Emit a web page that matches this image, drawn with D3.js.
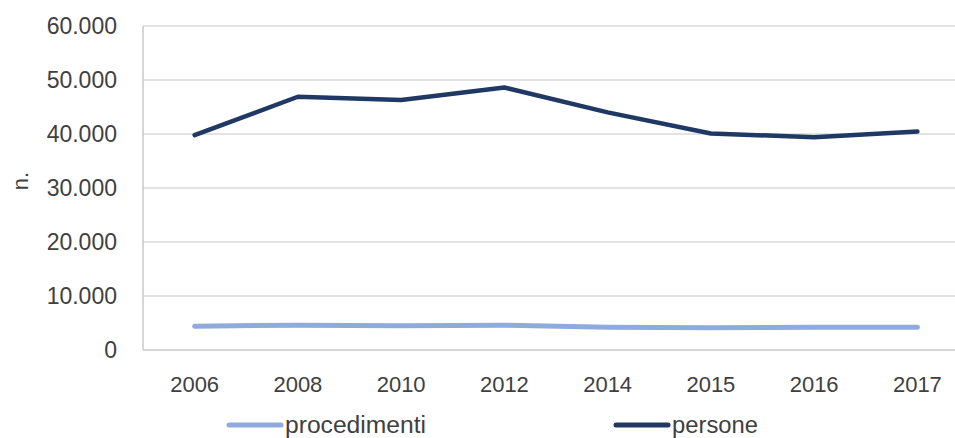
<!DOCTYPE html>
<html><head><meta charset="utf-8">
<script src="https://cdn.jsdelivr.net/npm/d3@7/dist/d3.min.js"></script>
<style>body{margin:0;background:#fff}svg{display:block}text{font-family:"Liberation Sans",Arial,sans-serif;fill:#404040}</style>
</head><body><svg id="c" width="955" height="438"></svg>
<script>
const years = ["2006","2008","2010","2012","2014","2015","2016","2017"];
const procedimenti = [4400,4600,4500,4600,4200,4100,4200,4200];
const persone = [39800,46900,46300,48600,44000,40100,39400,40450];
const yTicks = [0,10000,20000,30000,40000,50000,60000];
const seriesNames = ["procedimenti","persone"];
const colors = ["#8FAADC","#1F3864"];

const svg = d3.select("#c");
const x = d3.scaleBand().domain(years).range([143, 969]);
const y = d3.scaleLinear().domain([0,60000]).range([350, 26]);
const fmt = v => d3.format(",")(v).replace(/,/g, ".");

// gridlines
svg.append("g").selectAll("line").data(yTicks.filter(t=>t>0)).join("line")
  .attr("x1",143).attr("x2",955).attr("y1",d=>y(d)).attr("y2",d=>y(d))
  .attr("stroke","#d9d9d9").attr("stroke-width",1.3);

// y axis
const ya = svg.append("g").attr("transform","translate(143,0)")
  .call(d3.axisLeft(y).tickValues(yTicks).tickFormat(fmt).tickSize(0).tickPadding(26));
ya.select(".domain").remove();
ya.selectAll("text").style("font-size","23px").attr("fill","#404040").attr("font-family","Liberation Sans");
svg.append("line").attr("x1",143).attr("x2",143).attr("y1",26).attr("y2",350).attr("stroke","#c8c8c8").attr("stroke-width",1.5);

// x axis
const xa = svg.append("g").attr("transform","translate(0,350)")
  .call(d3.axisBottom(x).tickSize(0).tickPadding(26));
xa.select(".domain").remove();
xa.selectAll("text").style("font-size","22px").attr("fill","#404040").attr("font-family","Liberation Sans");
svg.append("line").attr("x1",143).attr("x2",955).attr("y1",350).attr("y2",350).attr("stroke","#c8c8c8").attr("stroke-width",1.5);

// y label
svg.append("text").attr("transform","translate(28,181) rotate(-90)").attr("text-anchor","middle")
  .style("font-size","22px").text("n.");

const line = d3.line().x((d,i)=>x(years[i])+x.bandwidth()/2).y(d=>y(d));
[procedimenti, persone].forEach((s,k)=>{
  svg.append("path").datum(s).attr("d",line).attr("fill","none")
    .attr("stroke",colors[k]).attr("stroke-width",k===0?5:4.5)
    .attr("stroke-linecap","round").attr("stroke-linejoin","round");
});

// legend
const lx = [229, 616];
seriesNames.forEach((n,k)=>{
  svg.append("line").attr("x1",lx[k]).attr("x2",lx[k]+52).attr("y1",425).attr("y2",425)
    .attr("stroke",colors[k]).attr("stroke-width",5).attr("stroke-linecap","round");
  svg.append("text").attr("x",lx[k]+56).attr("y",433).style("font-size","23px")
    .attr("textLength", k===0?141:86).attr("lengthAdjust","spacingAndGlyphs").text(n);
});
</script></body></html>
